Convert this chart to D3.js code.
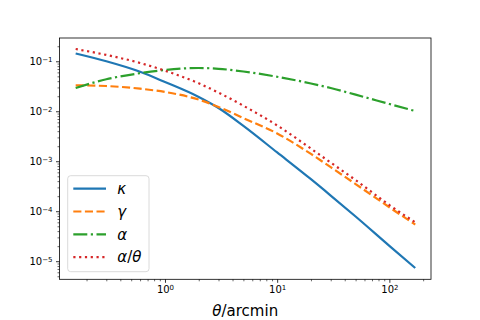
<!DOCTYPE html>
<html>
<head>
<meta charset="utf-8">
<script src="https://cdn.jsdelivr.net/npm/d3@7"></script>
<style>
  body { margin: 0; background: #fff; }
  svg { display: block; font-family: "DejaVu Sans", sans-serif; }
</style>
</head>
<body>
<div id="chart"></div>
<script>
// values
const theta = [0.16, 0.3, 0.6, 1, 2, 3, 5, 10, 20, 30, 50, 100, 170];
const kappa = [0.143, 0.1, 0.0617, 0.0385, 0.0193, 0.0116, 0.0051, 0.0015, 4.37e-4, 2.06e-4, 7.85e-5, 2.03e-5, 7.3e-6];
const gamma = [0.033, 0.032, 0.0283, 0.0243, 0.0171, 0.0122, 0.0073, 0.0036, 0.0014, 7.6e-4, 3.5e-4, 1.2e-4, 5.4e-5];
const alpha = [0.0292, 0.0437, 0.0578, 0.067, 0.0734, 0.0708, 0.0625, 0.049, 0.036, 0.0292, 0.0215, 0.014, 0.0101];
const alphaOverTheta = [0.176, 0.134, 0.0925, 0.0649, 0.0363, 0.0236, 0.0129, 0.0052, 0.00179, 9.4e-4, 4.2e-4, 1.33e-4, 6.0e-5];

const xTicks = [1, 10, 100];
const yTicks = [1e-5, 1e-4, 1e-3, 1e-2, 1e-1];

const series = [
    { name: "κ", values: kappa, color: "#1f77b4", dash: null },
    { name: "γ", values: gamma, color: "#ff7f0e", dash: "8.1,3.5" },
    { name: "α", values: alpha, color: "#2ca02c", dash: "14,3.5,2.2,3.5" },
    { name: "α/θ", values: alphaOverTheta, color: "#d62728", dash: "2.2,3.6" }
];

const W = 480, H = 320;
const box = { left: 59.5, right: 431, top: 38, bottom: 279.3 };

const svg = d3.select("#chart").append("svg")
    .attr("width", W)
    .attr("height", H);

// --- SCALES ---
const x = d3.scaleLog()
    .domain([Math.pow(10, -0.94), Math.pow(10, 2.371)])
    .range([box.left, box.right]);

const y = d3.scaleLog()
    .domain([Math.pow(10, -5.362), Math.pow(10, -0.534)])
    .range([box.bottom, box.top]);

// minor ticks 2..9 per decade inside the domain
function minorTicks(scale) {
    const [a, b] = scale.domain();
    const out = [];
    for (let e = Math.floor(Math.log10(a)); e <= Math.ceil(Math.log10(b)); e++) {
        for (let m = 2; m <= 9; m++) {
            const v = m * Math.pow(10, e);
            if (v >= a && v <= b) out.push(v);
        }
    }
    return out;
}

// --- CURVES ---
const plot = svg.append("g");
const line = d3.line()
    .x(d => x(d[0]))
    .y(d => y(d[1]))
    .curve(d3.curveMonotoneX);

series.forEach(s => {
    plot.append("path")
        .datum(theta.map((t, i) => [t, s.values[i]]))
        .attr("d", line)
        .attr("fill", "none")
        .attr("stroke", s.color)
        .attr("stroke-width", 2.2)
        .attr("stroke-dasharray", s.dash);
});

// --- AXES ---
function supLabel(g, fontSize) {
    g.selectAll(".tick text").each(function(d) {
        const t = d3.select(this).text(null);
        t.append("tspan").text("10");
        t.append("tspan")
            .attr("dy", "-0.45em")
            .attr("font-size", fontSize * 0.7)
            .text(String(Math.round(Math.log10(d))).replace("-", "−"));
    });
}

const xAxisG = svg.append("g").attr("transform", `translate(0,${box.bottom})`);
xAxisG.append("g")
    .call(d3.axisBottom(x).tickValues(minorTicks(x)).tickSize(2).tickFormat(""))
    .call(g => g.select(".domain").remove())
    .call(g => g.selectAll(".tick line").attr("stroke-width", 0.6));
xAxisG.append("g")
    .call(d3.axisBottom(x).tickValues(xTicks).tickSize(3.5).tickPadding(3.5))
    .call(g => g.select(".domain").remove())
    .call(g => g.selectAll(".tick line").attr("stroke-width", 0.8))
    .call(g => g.selectAll(".tick text")
        .attr("font-size", 10).attr("font-family", "DejaVu Sans").attr("fill", "#000"))
    .call(g => supLabel(g, 10));

const yAxisG = svg.append("g").attr("transform", `translate(${box.left},0)`);
yAxisG.append("g")
    .call(d3.axisLeft(y).tickValues(minorTicks(y)).tickSize(2).tickFormat(""))
    .call(g => g.select(".domain").remove())
    .call(g => g.selectAll(".tick line").attr("stroke-width", 0.6));
yAxisG.append("g")
    .call(d3.axisLeft(y).tickValues(yTicks).tickSize(3.5).tickPadding(3.5))
    .call(g => g.select(".domain").remove())
    .call(g => g.selectAll(".tick line").attr("stroke-width", 0.8))
    .call(g => g.selectAll(".tick text")
        .attr("font-size", 10).attr("font-family", "DejaVu Sans").attr("fill", "#000"))
    .call(g => supLabel(g, 10));

// frame
svg.append("rect")
    .attr("x", box.left)
    .attr("y", box.top)
    .attr("width", box.right - box.left)
    .attr("height", box.bottom - box.top)
    .attr("fill", "none")
    .attr("stroke", "#000")
    .attr("stroke-width", 0.8);

// x label
const xl = svg.append("text")
    .attr("x", (box.left + box.right) / 2)
    .attr("y", 316)
    .attr("text-anchor", "middle")
    .attr("font-size", 15);
xl.append("tspan").attr("font-style", "italic").text("θ");
xl.append("tspan").text("/arcmin");

// --- LEGEND ---
const legend = svg.append("g");
legend.append("rect")
    .attr("x", 67.7).attr("y", 175.7)
    .attr("width", 81.3).attr("height", 96)
    .attr("rx", 3)
    .attr("fill", "#fff").attr("fill-opacity", 0.8)
    .attr("stroke", "#d0d0d0").attr("stroke-width", 0.8);

series.forEach((s, i) => {
    const ly = 188.7 + i * 22.8;
    legend.append("line")
        .attr("x1", 73.3).attr("x2", 106)
        .attr("y1", ly).attr("y2", ly)
        .attr("stroke", s.color)
        .attr("stroke-width", 2.2)
        .attr("stroke-dasharray", s.dash);
    const t = legend.append("text")
        .attr("x", 117.3).attr("y", ly)
        .attr("dy", "0.35em")
        .attr("font-size", 15);
    if (s.name === "α/θ") {
        t.append("tspan").attr("font-style", "italic").text("α");
        t.append("tspan").text("/");
        t.append("tspan").attr("font-style", "italic").text("θ");
    } else {
        t.append("tspan").attr("font-style", "italic").text(s.name);
    }
});
</script>
</body>
</html>
